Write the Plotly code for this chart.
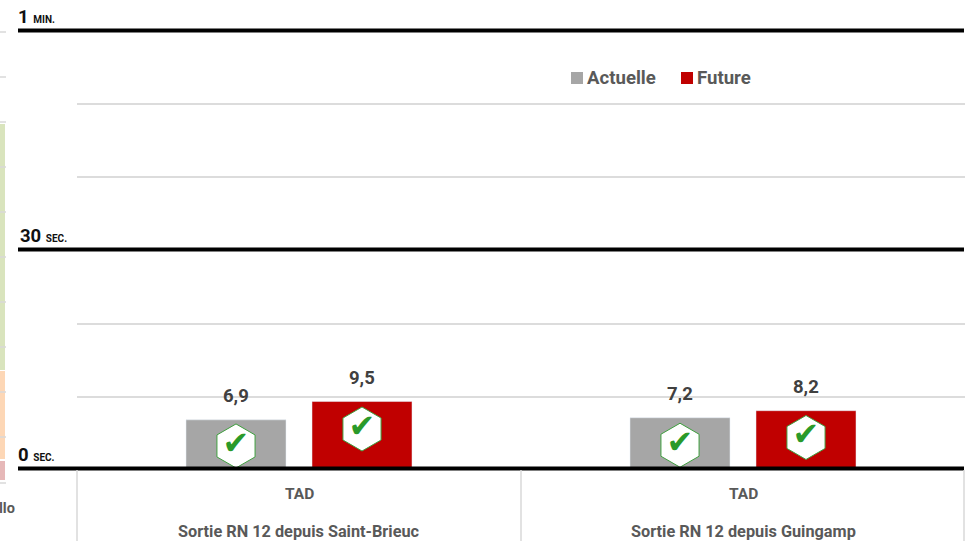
import plotly.graph_objects as go

W, H = 967, 541
L, R, T, B = 77, 2, 10, 55
PW, PH = W - L - R, H - T - B
BASE = 468.5

group_labels = ["TAD", "TAD"]
routes = ["Sortie RN 12 depuis Saint-Brieuc", "Sortie RN 12 depuis Guingamp"]
positions = [0, 1]
series_names = ["Actuelle", "Future"]
actuelle = [6.9, 7.2]
future = [9.5, 8.2]
value_labels_a = ["6,9", "7,2"]
value_labels_f = ["9,5", "8,2"]
ref_values = [0, 30, 60]
ref_big = ["0", "30", "1"]
ref_small = ["SEC.", "SEC.", "MIN."]
grid_values = [9.8, 19.8, 40, 50]
icon_a = [3.2, 3.3]
icon_f = [5.6, 4.4]

GREY, RED, TXT = "#a6a6a6", "#c00000", "#595959"
FONT = "Roboto"
OFFSET = 63 / (PW / 2)


def px(x):
    return (x - L) / PW


def py(y):
    return 1 - (y - T) / PH


fig = go.Figure()
fig.add_bar(x=positions, y=actuelle, name=series_names[0], marker_color=GREY, showlegend=False)
fig.add_bar(x=positions, y=future, name=series_names[1], marker_color=RED, showlegend=False)

for vals, off in ((icon_a, -OFFSET), (icon_f, OFFSET)):
    xs = [p + off for p in positions]
    fig.add_scatter(x=xs, y=vals, mode="markers", showlegend=False, hoverinfo="skip",
                    marker=dict(symbol="hexagon", size=44, color="white",
                                line=dict(color="#3f9f3f", width=1)))
    fig.add_scatter(x=xs, y=vals, mode="text", text=["✔", "✔"], showlegend=False, hoverinfo="skip",
                    textfont=dict(family="DejaVu Sans", size=32, color="#2a9a2a"),
                    textposition="middle center")

ann = []
for vals, labs, off in ((actuelle, value_labels_a, -OFFSET), (future, value_labels_f, OFFSET)):
    for p, v, s in zip(positions, vals, labs):
        ann.append(dict(x=p + off, y=v, xref="x", yref="y", text=f"<b>{s}</b>", showarrow=False,
                        yanchor="bottom", yshift=11,
                        font=dict(family=FONT, size=18.5, color="#404040")))
for p, g, r in zip(positions, group_labels, routes):
    ann.append(dict(x=p, y=py(494.5), xref="x", yref="paper", text=f"<b>{g}</b>", showarrow=False,
                    yanchor="middle", font=dict(family=FONT, size=15.5, color=TXT)))
    ann.append(dict(x=p, y=py(531), xref="x", yref="paper", text=f"<b>{r}</b>", showarrow=False,
                    yanchor="middle", font=dict(family=FONT, size=16.3, color=TXT)))
for v, big, small in zip(ref_values, ref_big, ref_small):
    ann.append(dict(x=px(16 if v != 30 else 18), y=v, xref="paper", yref="y2", xanchor="left", yanchor="bottom",
                    yshift=1, showarrow=False, align="left",
                    text=f"<b>{big}</b> <b style='font-size:10px'>{small}</b>",
                    font=dict(family=FONT, size=18.5, color="#111111")))
# legend
for name, colr, sx, tx in ((series_names[0], GREY, 571, 585), (series_names[1], RED, 681, 695)):
    ann.append(dict(x=px(tx), y=py(78), xref="paper", yref="paper", xanchor="left", yanchor="middle",
                    text=f"<b>{name}</b>", showarrow=False, font=dict(family=FONT, size=18.6, color=TXT)))
ann.append(dict(x=px(17), y=py(508), xref="paper", yref="paper", xanchor="right", yanchor="middle",
                text="<b>llo</b>", showarrow=False, font=dict(family=FONT, size=14.5, color=TXT)))

shapes = []
for sx, colr in ((571, GREY), (681, RED)):
    shapes.append(dict(type="rect", xref="paper", yref="paper", x0=px(sx), x1=px(sx + 12),
                       y0=py(84), y1=py(72), fillcolor=colr, line_width=0))
# black reference lines
for v in ref_values:
    shapes.append(dict(type="line", xref="paper", yref="y2", x0=px(18), x1=px(964), y0=v, y1=v,
                       line=dict(color="black", width=4)))
# group dividers below the baseline
for xp in (77, 521, 964):
    shapes.append(dict(type="line", xref="paper", yref="paper", x0=px(xp), x1=px(xp), y0=py(470), y1=py(541),
                       line=dict(color="#d9d9d9", width=1.5)))
# fragment of the neighbouring chart at the left edge
for y0, y1, c in ((124, 370, "#d9e4bd"), (371, 459, "#fdd7b6"), (461, 480, "#e6b8b8")):
    shapes.append(dict(type="rect", xref="paper", yref="paper", x0=px(0), x1=px(5), y0=py(y0), y1=py(y1),
                       fillcolor=c, line_width=0))
for y in (32, 77, 122, 167, 212, 257, 302, 347, 392, 437, 483):
    shapes.append(dict(type="line", xref="paper", yref="paper", x0=px(0), x1=px(6), y0=py(y), y1=py(y),
                       line=dict(color="#d9d9d9", width=1.5)))

fig.update_layout(
    width=W, height=H, autosize=False,
    margin=dict(l=L, r=R, t=T, b=B, pad=0),
    plot_bgcolor="white", paper_bgcolor="white",
    barmode="group", bargap=1 - 252 / (PW / 2), bargroupgap=1 - 100 / 126,
    showlegend=False, annotations=ann, shapes=shapes,
    xaxis=dict(range=[-0.5, 1.5], showticklabels=False, showgrid=False, zeroline=False,
               tickvals=positions, ticks=""),
    yaxis=dict(range=[-(T + PH - BASE) / 7.05, (BASE - T) / 7.05], showticklabels=False, showgrid=False,
               zeroline=False, ticks=""),
    yaxis2=dict(range=[-(T + PH - BASE) / 7.3, (BASE - T) / 7.3], overlaying="y", side="right",
                showticklabels=False, zeroline=False,
                tickvals=grid_values, showgrid=True, gridcolor="#dcdcdc", gridwidth=1.5, ticks="",
                layer="below traces"),
)
# invisible carrier so the second axis (gridlines + reference lines) is drawn
fig.add_scatter(x=positions, y=ref_values[:2], yaxis="y2", mode="none", showlegend=False, hoverinfo="skip")
fig.write_html("out.html", config={"displayModeBar": False},
               post_script="document.body.style.margin='0';document.body.style.overflow='hidden';")
